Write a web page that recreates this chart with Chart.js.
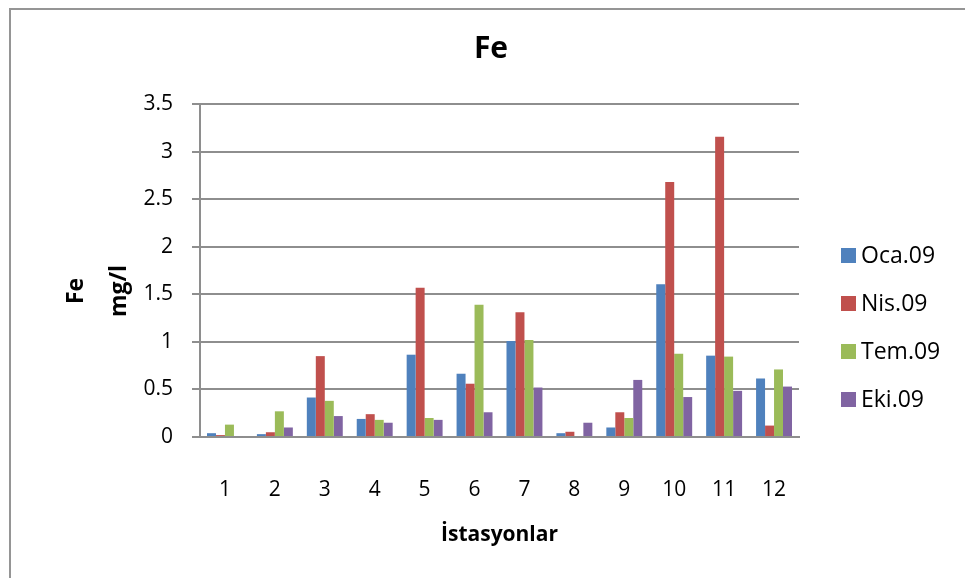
<!DOCTYPE html>
<html>
<head>
<meta charset="utf-8">
<script src="https://cdn.jsdelivr.net/npm/chart.js@4.4.1/dist/chart.umd.min.js"></script>
<style>
  html, body { margin: 0; padding: 0; background: #fff; overflow: hidden; }
  #frame { position: absolute; left: 9px; top: 8px; width: 1000px; height: 620px; border: 2px solid #959595; }
  #wrap { position: absolute; left: 0; top: 0; width: 965px; height: 578px; }
</style>
</head>
<body>
<div id="frame"></div>
<div id="wrap"><canvas id="c" width="965" height="578"></canvas></div>
<script>
// Stations along the x axis
const stations = ['1', '2', '3', '4', '5', '6', '7', '8', '9', '10', '11', '12'];

// Sampling periods (series names)
const periods = ['Oca.09', 'Nis.09', 'Tem.09', 'Eki.09'];

// Fe concentration, mg/l, per station
const oca09 = [0.04, 0.03, 0.415, 0.19, 0.865, 0.665, 1.01, 0.04, 0.10, 1.605, 0.855, 0.615];
const nis09 = [0.02, 0.05, 0.85, 0.24, 1.57, 0.56, 1.31, 0.055, 0.26, 2.68, 3.155, 0.12];
const tem09 = [0.13, 0.27, 0.38, 0.18, 0.20, 1.39, 1.02, 0, 0.20, 0.875, 0.845, 0.71];
const eki09 = [0.01, 0.10, 0.22, 0.15, 0.18, 0.26, 0.52, 0.15, 0.60, 0.42, 0.485, 0.53];

// Text
const chartTitle = 'Fe';
const xCaption = 'İstasyonlar';
const yCaption = ['Fe', 'mg/l'];

const colors = ['#4F81BD', '#C0504D', '#9BBB59', '#8064A2'];
const FONT = '"Open Sans", "DejaVu Sans", sans-serif';
const GRID = '#8e8e8e';

const seriesValues = [oca09, nis09, tem09, eki09];

// Title, rotated axis caption (two lines) and the legend on the right
const sideText = {
  id: 'sideText',
  afterDraw(chart) {
    const ctx = chart.ctx;
    ctx.save();
    ctx.fillStyle = '#000';

    ctx.font = 'bold 30px ' + FONT;
    ctx.textAlign = 'center';
    ctx.textBaseline = 'middle';
    ctx.fillText(chartTitle, 491, 49);

    ctx.font = 'bold 23px ' + FONT;
    ctx.textBaseline = 'alphabetic';
    const baseX = [83, 126];
    yCaption.forEach((line, i) => {
      ctx.save();
      ctx.translate(baseX[i], 291);
      ctx.rotate(-Math.PI / 2);
      ctx.fillText(line, 0, 0);
      ctx.restore();
    });

    ctx.font = '23px ' + FONT;
    ctx.textAlign = 'left';
    ctx.textBaseline = 'middle';
    chart.data.datasets.forEach((ds, i) => {
      const cy = 255.5 + i * 47.9;
      ctx.fillStyle = ds.backgroundColor;
      ctx.fillRect(841, Math.round(cy - 7.5), 15, 15);
      ctx.fillStyle = '#000';
      ctx.fillText(ds.label, 861, cy + 1);
    });
    ctx.restore();
  }
};

new Chart(document.getElementById('c'), {
  type: 'bar',
  data: {
    labels: stations,
    datasets: periods.map((name, i) => ({
      label: name,
      data: seriesValues[i],
      backgroundColor: colors[i],
      borderWidth: 0,
      barPercentage: 1.0,
      categoryPercentage: 0.72
    }))
  },
  options: {
    responsive: false,
    devicePixelRatio: 1,
    animation: false,
    layout: { padding: { left: 0, right: 166, top: 104, bottom: 0 } },
    plugins: {
      legend: { display: false },
      tooltip: { enabled: false },
      title: { display: false }
    },
    scales: {
      x: {
        afterFit(scale) { scale.height = 141; },
        grid: { display: false },
        border: { display: true, color: GRID, width: 2 },
        ticks: { color: '#000', font: { family: FONT, size: 21 }, padding: 32, maxRotation: 0 },
        title: {
          display: true,
          text: xCaption,
          color: '#000',
          font: { family: FONT, size: 21, weight: 'bold' },
          padding: { top: 0, bottom: 30 }
        }
      },
      y: {
        min: 0,
        max: 3.5,
        afterFit(scale) { scale.width = 200; },
        grid: { color: GRID, lineWidth: 2, drawTicks: true, tickLength: 8 },
        border: { display: true, color: GRID, width: 2 },
        ticks: {
          stepSize: 0.5,
          color: '#000',
          font: { family: FONT, size: 21 },
          padding: 19,
          callback: (v) => String(Math.round(v * 10) / 10)
        }
      }
    }
  },
  plugins: [sideText]
});
</script>
</body>
</html>
